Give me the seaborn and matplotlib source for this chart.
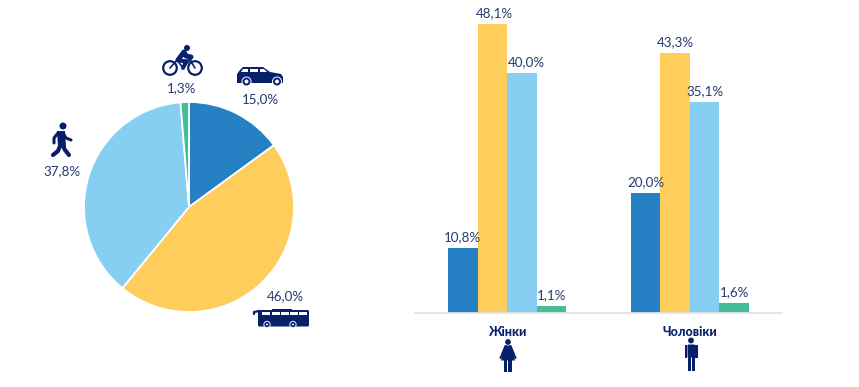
"""
Transport mode shares: pie for everyone, grouped bars by gender.
"""

import matplotlib
matplotlib.use('Agg')
import matplotlib.pyplot as plt
from matplotlib.patches import Circle, Polygon, Rectangle, FancyBboxPatch
import pandas as pd
import seaborn as sns

modes = ['Авто', 'Автобус', 'Пішки', 'Велосипед']
mode_colors = ['#2680C4', '#FFCD5C', '#87CEF3', '#45BC9A']
total_values = [15.0, 46.0, 37.8, 1.3]
genders = ['Жінки', 'Чоловіки']
women_values = [10.8, 48.1, 40.0, 1.1]
men_values = [20.0, 43.3, 35.1, 1.6]

TEXT = '#27396F'
NAVY = '#06206A'
W, H = 859, 387


def pct(v):
    return f'{v:.1f}%'.replace('.', ',')


def px_axes(fig, x0, y0, x1, y1):
    return fig.add_axes([x0 / W, 1 - y1 / H, (x1 - x0) / W, (y1 - y0) / H])


def draw_line(ax, pts, lw=2.0):
    xs, ys = zip(*pts)
    ax.plot(xs, ys, color=NAVY, lw=lw, solid_capstyle='round', solid_joinstyle='round')


def icon_car(ax):
    ax.add_patch(Polygon([(237, 83), (237, 74), (240, 70), (243, 67), (263, 67), (270, 72),
                          (281, 74), (283, 77), (283, 83)], color=NAVY, lw=0))
    ax.add_patch(Polygon([(243, 69), (248, 69), (248, 72), (241, 72)], color='white', lw=0))
    ax.add_patch(Polygon([(250, 69), (258, 69), (258, 72), (250, 72)], color='white', lw=0))
    ax.add_patch(Polygon([(260, 69), (264, 69), (267, 72), (260, 72)], color='white', lw=0))
    for cx in (246.5, 277):
        ax.add_patch(Circle((cx, 81.5), 5, color='white', lw=0))
        ax.add_patch(Circle((cx, 81.5), 4, color=NAVY, lw=0))
        ax.add_patch(Circle((cx, 81.5), 2, color='white', lw=0))


def icon_bike(ax):
    for cx in (170, 195):
        ax.add_patch(Circle((cx, 68), 6.8, fill=False, ec=NAVY, lw=1.6))
    ax.add_patch(Circle((187, 48), 3, color=NAVY, lw=0))
    draw_line(ax, [(170, 68), (177, 60), (190, 60), (195, 68)], 1.2)
    draw_line(ax, [(177, 60), (183, 68), (190, 60)], 1.2)
    draw_line(ax, [(178, 60), (184, 52), (186, 56), (191, 57)], 3.6)
    draw_line(ax, [(178, 60), (186, 62), (183, 68)], 2.8)
    draw_line(ax, [(189, 56), (191, 60)], 1.2)


def icon_walker(ax):
    ax.add_patch(Circle((63, 126), 3.5, color=NAVY, lw=0))
    ax.add_patch(Polygon([(57, 131), (65, 131), (66, 147), (58, 147)], color=NAVY, lw=0))
    draw_line(ax, [(60, 146), (58, 151), (53, 155)], 3.0)
    draw_line(ax, [(63, 146), (65, 150), (69, 155)], 3.0)
    draw_line(ax, [(58, 133), (54, 138), (54, 143)], 2.2)
    draw_line(ax, [(63, 133), (66, 138), (71, 140)], 2.2)


def icon_bus(ax):
    ax.add_patch(FancyBboxPatch((258, 310), 51, 16.5, boxstyle='round,pad=0,rounding_size=1.5',
                                color=NAVY, lw=0))
    ax.add_patch(Rectangle((272, 309), 20, 2, color=NAVY, lw=0))
    draw_line(ax, [(254, 314), (254, 312), (259, 311)], 1.6)
    for x0 in (262, 272, 281, 290, 299):
        ax.add_patch(Rectangle((x0, 312), 8, 3, color='white', lw=0))
    for cx in (267, 293):
        ax.add_patch(Circle((cx, 324.5), 3.6, color='white', lw=0))
        ax.add_patch(Circle((cx, 324.5), 2.7, color=NAVY, lw=0))
        ax.add_patch(Circle((cx, 324.5), 1, color='white', lw=0))


def icon_woman(ax):
    ax.add_patch(Circle((508, 342), 2.9, color=NAVY, lw=0))
    ax.add_patch(Polygon([(505, 345.5), (511, 345.5), (515, 360.5), (501, 360.5)], color=NAVY, lw=0))
    draw_line(ax, [(505.5, 346), (500.5, 358)], 1.5)
    draw_line(ax, [(510.5, 346), (515.5, 358)], 1.5)
    ax.add_patch(Rectangle((504.2, 360), 3.2, 12, color=NAVY, lw=0))
    ax.add_patch(Rectangle((508.4, 360), 3.2, 12, color=NAVY, lw=0))


def icon_man(ax):
    ax.add_patch(Circle((691, 340.5), 2.9, color=NAVY, lw=0))
    ax.add_patch(FancyBboxPatch((687.5, 344.5), 7.5, 13, boxstyle='round,pad=0,rounding_size=1',
                                color=NAVY, lw=0))
    ax.add_patch(Rectangle((684.6, 345), 2.4, 13, color=NAVY, lw=0))
    ax.add_patch(Rectangle((695.4, 345), 2.4, 13, color=NAVY, lw=0))
    ax.add_patch(Rectangle((687.7, 356), 3.3, 14.5, color=NAVY, lw=0))
    ax.add_patch(Rectangle((691.6, 356), 3.3, 14.5, color=NAVY, lw=0))


def main():
    sns.set_theme(style='white')
    plt.rcParams['font.family'] = ['Lato', 'DejaVu Sans']

    fig = plt.figure(figsize=(W / 100, H / 100), dpi=100)

    # pie, clockwise from the top
    ax_pie = px_axes(fig, 84, 102, 294, 312)
    ax_pie.pie(total_values, colors=mode_colors, startangle=90, counterclock=False, radius=1,
               wedgeprops={'edgecolor': 'white', 'linewidth': 1.3})
    ax_pie.set_xlim(-1, 1)
    ax_pie.set_ylim(-1, 1)

    # grouped bars
    df = pd.DataFrame({
        'gender': [genders[0]] * 4 + [genders[1]] * 4,
        'mode': modes * 2,
        'value': women_values + men_values,
    })
    ax_bar = px_axes(fig, 415, 0, 782, 313)
    sns.barplot(data=df, x='gender', y='value', hue='mode', hue_order=modes,
                palette=mode_colors, width=0.645, gap=0, saturation=1, legend=False,
                linewidth=0, ax=ax_bar)
    ax_bar.set_xlim(-0.503, 1.503)
    ax_bar.set_ylim(0, 52.1)
    ax_bar.set_xlabel('')
    ax_bar.set_ylabel('')
    ax_bar.set_yticks([])
    ax_bar.tick_params(axis='x', length=0, pad=9)
    for lab in ax_bar.get_xticklabels():
        lab.set_fontsize(9)
        lab.set_fontweight('black')
        lab.set_color(NAVY)
    sns.despine(ax=ax_bar, left=True)
    ax_bar.spines['bottom'].set_color('#E3E3E3')
    ax_bar.spines['bottom'].set_linewidth(1.3)
    for i, (cont, w_val, m_val) in enumerate(zip(ax_bar.containers, women_values, men_values)):
        texts = ax_bar.bar_label(cont, labels=[pct(w_val), pct(m_val)], padding=3.5,
                                 fontsize=9.6, color=TEXT)
        # two labels sit a little right of their bars in the original
        if i in (1, 2):
            x_off, y_off = texts[0].xyann
            texts[0].xyann = (x_off + 1.5 * i, y_off)

    # overlay in pixel coordinates for icons and the pie's labels
    ov = fig.add_axes([0, 0, 1, 1])
    ov.set_xlim(0, W)
    ov.set_ylim(H, 0)
    ov.axis('off')
    ov.patch.set_alpha(0)
    label_pos = [(260, 99), (285, 296), (62, 171), (182, 88)]
    for v, (x, y) in zip(total_values, label_pos):
        ov.text(x, y, pct(v), ha='center', va='center', fontsize=9.6, color=TEXT)
    icon_car(ov)
    icon_bike(ov)
    icon_walker(ov)
    icon_bus(ov)
    icon_woman(ov)
    icon_man(ov)

    fig.savefig('out.png', dpi=100)


if __name__ == '__main__':
    main()
